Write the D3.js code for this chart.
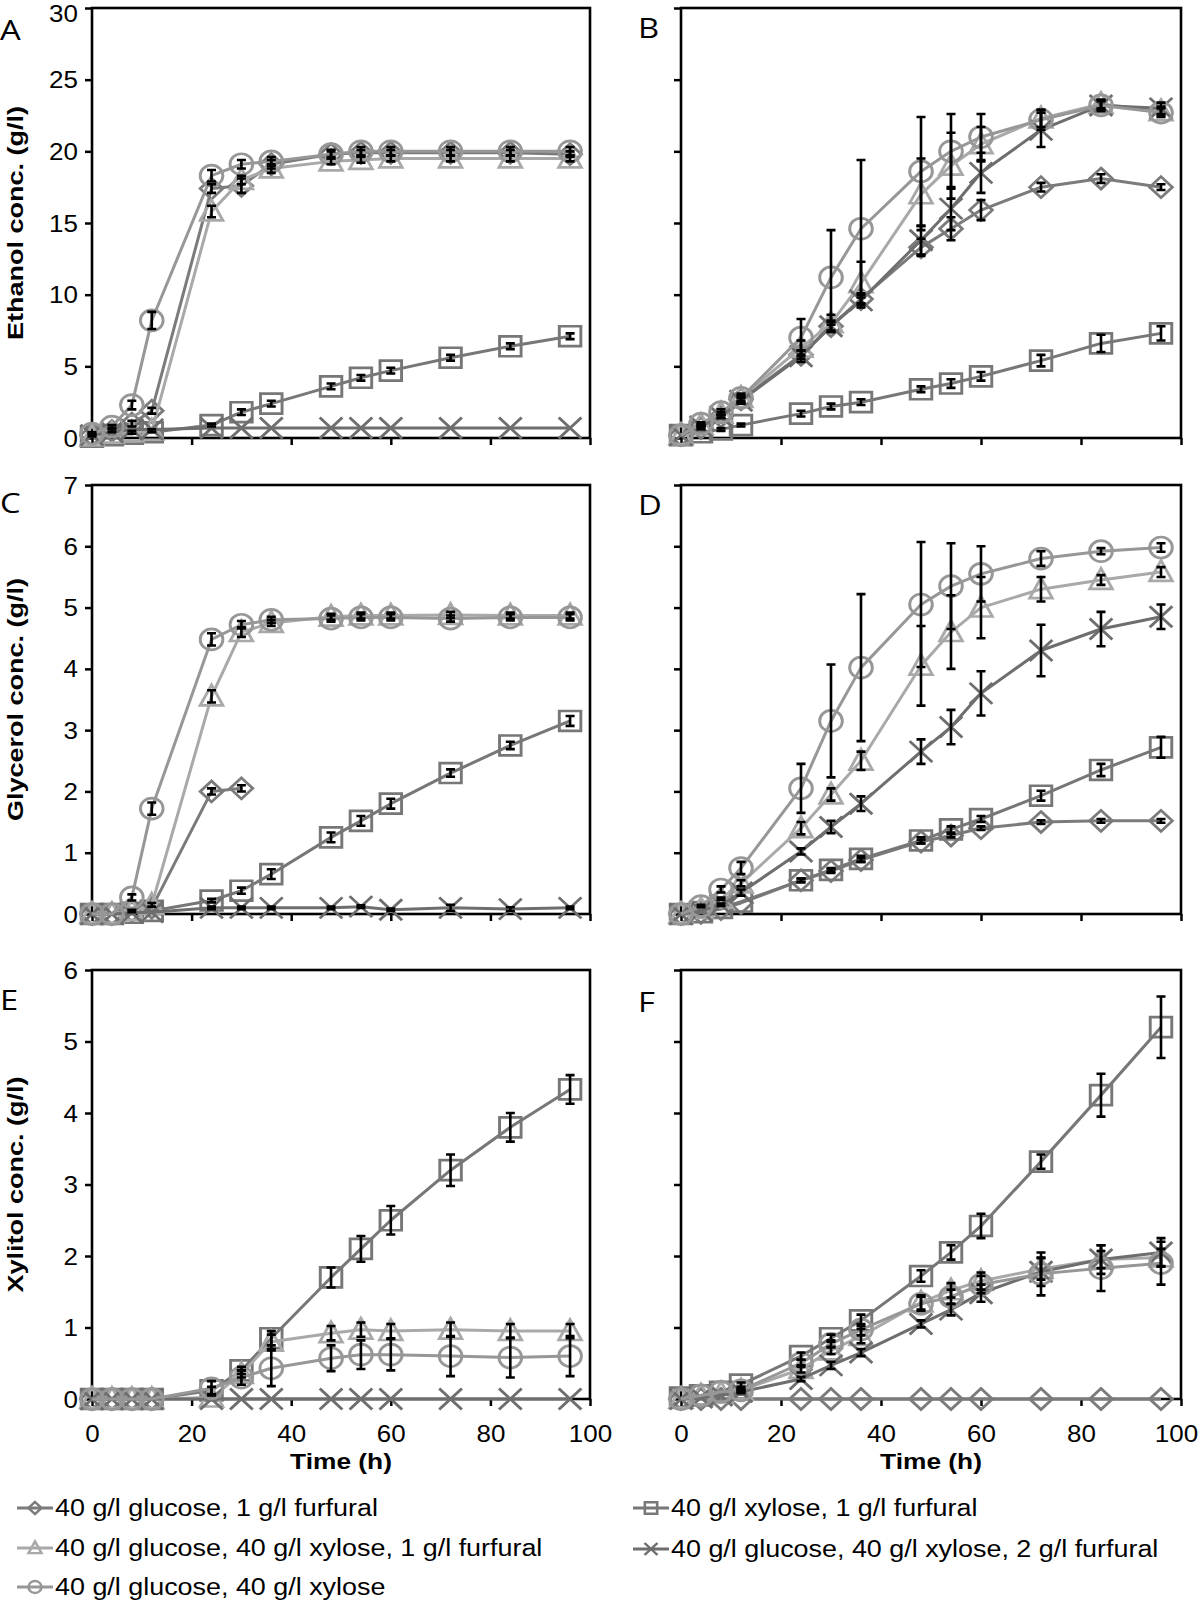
<!DOCTYPE html>
<html><head><meta charset="utf-8">
<script src="https://cdn.jsdelivr.net/npm/d3@7"></script>
<style>body{margin:0;background:#fff}</style>
</head><body><svg id="c" width="1200" height="1604"></svg>
<script>
// ---------------- DATA ----------------
const time = [0, 4, 8, 12, 24, 30, 36, 48, 54, 60, 72, 84, 96];
const xTicks = [0, 20, 40, 60, 80, 100];
const seriesKeys = ["d", "s", "t", "x", "c"];
const seriesLabels = [
  "40 g/l glucose, 1 g/l furfural",
  "40 g/l xylose, 1 g/l furfural",
  "40 g/l glucose, 40 g/l xylose, 1 g/l furfural",
  "40 g/l glucose, 40 g/l xylose, 2 g/l furfural",
  "40 g/l glucose, 40 g/l xylose"
];
const panelLetters = ["A", "B", "C", "D", "E", "F"];
const yTitles = ["Ethanol conc. (g/l)", "Glycerol conc. (g/l)", "Xylitol conc. (g/l)"];
const yMax = [30, 7, 6];
const yStep = [5, 1, 1];
const xTitle = "Time (h)";

// Panel A – ethanol
const A_d = [0.2, 0.5, 1.0, 1.9, 17.4, 17.6, 19.1, 19.8, 19.9, 19.9, 19.9, 19.9, 19.8];
const A_s = [0.1, 0.2, 0.3, 0.4, 0.9, 1.8, 2.4, 3.6, 4.2, 4.7, 5.6, 6.4, 7.1];
const A_t = [0.1, 0.3, 0.4, 0.5, 15.8, 18.0, 18.8, 19.3, 19.4, 19.5, 19.5, 19.5, 19.5];
const A_x = [0.2, 0.4, 0.6, 0.6, 0.7, 0.7, 0.7, 0.7, 0.7, 0.7, 0.7, 0.7, 0.7];
const A_c = [0.3, 0.8, 2.3, 8.2, 18.3, 19.1, 19.3, 19.8, 20.0, 20.0, 20.0, 20.0, 20.0];
const A_d_e = [0.1, 0.1, 0.2, 0.2, 0.3, 0.5, 0.3, 0.2, 0.2, 0.2, 0.2, 0.2, 0.2];
const A_s_e = [0, 0, 0, 0, 0.1, 0.2, 0.2, 0.2, 0.2, 0.2, 0.2, 0.2, 0.2];
const A_t_e = [0, 0, 0.1, 0.1, 0.4, 0.3, 0.3, 0.2, 0.2, 0.2, 0.2, 0.2, 0.2];
const A_x_e = [0, 0, 0, 0, 0, 0, 0, 0, 0, 0, 0, 0, 0];
const A_c_e = [0.1, 0.1, 0.3, 0.6, 0.4, 0.3, 0.3, 0.3, 0.3, 0.3, 0.3, 0.3, 0.3];

// Panel B – ethanol
const B_d = [0.2, 0.7, 1.5, 2.7, 5.8, 7.8, 9.7, 13.3, 14.6, 15.9, 17.5, 18.1, 17.5];
const B_s = [0.2, 0.4, 0.6, 0.9, 1.7, 2.2, 2.5, 3.4, 3.8, 4.3, 5.4, 6.6, 7.3];
const B_t = [0.2, 0.9, 1.7, 2.8, 6.3, 8.0, 10.8, 17.0, 19.0, 20.5, 22.3, 23.3, 22.8];
const B_x = [0.2, 0.8, 1.5, 2.6, 5.7, 7.8, 9.6, 13.8, 16.0, 18.5, 21.5, 23.2, 23.0];
const B_c = [0.2, 1.0, 1.8, 2.8, 7.0, 11.2, 14.6, 18.6, 20.0, 21.0, 22.2, 23.2, 22.7];
const B_d_e = [0, 0.1, 0.1, 0.2, 0.3, 0.3, 0.3, 0.6, 0.8, 0.7, 0.3, 0.3, 0.2];
const B_s_e = [0, 0, 0.1, 0.1, 0.2, 0.2, 0.2, 0.2, 0.3, 0.3, 0.4, 0.6, 0.5];
const B_t_e = [0, 0.1, 0.1, 0.2, 0.5, 0.6, 1.5, 2.5, 2.3, 1.2, 0.6, 0.3, 0.3];
const B_x_e = [0, 0.1, 0.1, 0.2, 0.4, 0.4, 0.5, 1.0, 1.5, 1.4, 1.2, 0.4, 0.4];
const B_c_e = [0, 0.1, 0.2, 0.3, 1.3, 3.3, 4.8, 3.8, 2.6, 1.6, 0.7, 0.3, 0.3];

// Panel C – glycerol
const C_d = [0, 0, 0.05, 0.1, 2.0, 2.05, null, null, null, null, null, null, null];
const C_s = [0, 0, 0.02, 0.05, 0.22, 0.38, 0.65, 1.25, 1.52, 1.8, 2.3, 2.75, 3.15];
const C_t = [0, 0, 0.05, 0.15, 3.55, 4.6, 4.75, 4.85, 4.87, 4.87, 4.88, 4.87, 4.87];
const C_x = [0, 0, 0.02, 0.03, 0.1, 0.1, 0.1, 0.1, 0.12, 0.07, 0.1, 0.08, 0.1];
const C_c = [0, 0, 0.27, 1.72, 4.48, 4.72, 4.8, 4.82, 4.84, 4.84, 4.82, 4.84, 4.84];
const C_d_e = [0, 0, 0, 0, 0.05, 0.05, 0, 0, 0, 0, 0, 0, 0];
const C_s_e = [0, 0, 0, 0, 0.03, 0.05, 0.08, 0.08, 0.08, 0.08, 0.06, 0.06, 0.08];
const C_t_e = [0, 0, 0.02, 0.03, 0.1, 0.08, 0.05, 0.05, 0.05, 0.05, 0.05, 0.05, 0.05];
const C_x_e = [0, 0, 0, 0, 0.02, 0.02, 0.02, 0.02, 0.02, 0.02, 0.05, 0.03, 0.02];
const C_c_e = [0, 0, 0.05, 0.1, 0.1, 0.06, 0.05, 0.05, 0.05, 0.05, 0.05, 0.05, 0.05];

// Panel D – glycerol
const D_d = [0, 0.02, 0.08, 0.18, 0.55, 0.7, 0.88, 1.18, 1.28, 1.4, 1.5, 1.52, 1.52];
const D_s = [0, 0.03, 0.1, 0.2, 0.55, 0.72, 0.9, 1.2, 1.38, 1.55, 1.93, 2.35, 2.72];
const D_t = [0, 0.08, 0.25, 0.5, 1.4, 1.95, 2.5, 4.05, 4.6, 5.0, 5.3, 5.45, 5.58];
const D_x = [0, 0.05, 0.15, 0.35, 1.02, 1.42, 1.8, 2.65, 3.05, 3.6, 4.3, 4.65, 4.85];
const D_c = [0, 0.13, 0.4, 0.75, 2.05, 3.15, 4.02, 5.05, 5.35, 5.55, 5.8, 5.92, 5.98];
const D_d_e = [0, 0, 0, 0, 0.03, 0.03, 0.03, 0.03, 0.03, 0.03, 0.03, 0.03, 0.03];
const D_s_e = [0, 0, 0, 0, 0.03, 0.03, 0.05, 0.05, 0.05, 0.05, 0.08, 0.1, 0.17];
const D_t_e = [0, 0, 0.02, 0.05, 0.1, 0.1, 0.15, 0.65, 0.6, 0.5, 0.2, 0.08, 0.08];
const D_x_e = [0, 0, 0.02, 0.05, 0.05, 0.1, 0.12, 0.2, 0.28, 0.36, 0.42, 0.28, 0.2];
const D_c_e = [0, 0.02, 0.05, 0.1, 0.4, 0.92, 1.2, 1.02, 0.7, 0.45, 0.12, 0.05, 0.07];

// Panel E – xylitol
const E_d = [0, 0, 0, 0, null, null, null, null, null, null, null, null, null];
const E_s = [0, 0, 0, 0, 0.12, 0.4, 0.85, 1.7, 2.1, 2.5, 3.2, 3.8, 4.33];
const E_t = [0, 0, 0, 0, 0.02, 0.35, 0.8, 0.92, 0.97, 0.95, 0.97, 0.95, 0.95];
const E_x = [0, 0, 0, 0, 0, 0, 0, 0, 0, 0, 0, 0, 0];
const E_c = [0, 0, 0, 0, 0.15, 0.3, 0.43, 0.57, 0.62, 0.62, 0.6, 0.58, 0.6];
const E_d_e = [0, 0, 0, 0, 0, 0, 0, 0, 0, 0, 0, 0, 0];
const E_s_e = [0, 0, 0, 0, 0.05, 0.05, 0.1, 0.14, 0.18, 0.2, 0.22, 0.2, 0.2];
const E_t_e = [0, 0, 0, 0, 0, 0.05, 0.1, 0.1, 0.1, 0.1, 0.1, 0.1, 0.1];
const E_x_e = [0, 0, 0, 0, 0, 0, 0, 0, 0, 0, 0, 0, 0];
const E_c_e = [0, 0, 0, 0, 0.1, 0.1, 0.25, 0.18, 0.2, 0.22, 0.28, 0.28, 0.28];

// Panel F – xylitol
const F_d = [0, 0, 0, 0, 0, 0, 0, 0, 0, 0, 0, 0, 0];
const F_s = [0.02, 0.05, 0.1, 0.2, 0.6, 0.85, 1.1, 1.72, 2.05, 2.42, 3.32, 4.25, 5.2];
const F_t = [0, 0.05, 0.08, 0.12, 0.42, 0.68, 0.88, 1.35, 1.52, 1.65, 1.82, 1.95, 1.98];
const F_x = [0, 0.02, 0.05, 0.1, 0.28, 0.47, 0.65, 1.05, 1.25, 1.48, 1.78, 1.95, 2.05];
const F_c = [0, 0.05, 0.1, 0.12, 0.5, 0.77, 0.97, 1.33, 1.43, 1.6, 1.75, 1.83, 1.9];
const F_d_e = [0, 0, 0, 0, 0, 0, 0, 0, 0, 0, 0, 0, 0];
const F_s_e = [0, 0, 0, 0.03, 0.05, 0.05, 0.08, 0.08, 0.1, 0.17, 0.1, 0.3, 0.43];
const F_t_e = [0, 0, 0, 0.02, 0.05, 0.05, 0.1, 0.1, 0.1, 0.12, 0.15, 0.12, 0.12];
const F_x_e = [0, 0, 0, 0.02, 0.03, 0.05, 0.05, 0.05, 0.08, 0.12, 0.2, 0.2, 0.2];
const F_c_e = [0, 0, 0, 0.02, 0.05, 0.05, 0.08, 0.1, 0.1, 0.12, 0.3, 0.32, 0.3];

// ---------------- STYLE / LAYOUT ----------------
const SX = 1.13;       // horizontal stretch of text as in reference
const MSX = 1.08;      // horizontal stretch of markers
const FONT = "'Liberation Sans', Arial, sans-serif";
const style = {
  d: { color: "#7b7b7b", marker: "diamond" },
  s: { color: "#777777", marker: "square" },
  t: { color: "#a9a9a9", marker: "triangle" },
  x: { color: "#6e6e6e", marker: "cross" },
  c: { color: "#979797", marker: "circle" }
};
const colX = [[92, 590], [681, 1181]];
const rowY = [[8, 438], [485, 914], [970, 1399]];
const letterPos = [[0, 40], [638, 38], [0, 513], [638, 515], [0, 1010], [638, 1012]];

const panelData = [
  { d: [A_d, A_d_e], s: [A_s, A_s_e], t: [A_t, A_t_e], x: [A_x, A_x_e], c: [A_c, A_c_e] },
  { d: [B_d, B_d_e], s: [B_s, B_s_e], t: [B_t, B_t_e], x: [B_x, B_x_e], c: [B_c, B_c_e] },
  { d: [C_d, C_d_e], s: [C_s, C_s_e], t: [C_t, C_t_e], x: [C_x, C_x_e], c: [C_c, C_c_e] },
  { d: [D_d, D_d_e], s: [D_s, D_s_e], t: [D_t, D_t_e], x: [D_x, D_x_e], c: [D_c, D_c_e] },
  { d: [E_d, E_d_e], s: [E_s, E_s_e], t: [E_t, E_t_e], x: [E_x, E_x_e], c: [E_c, E_c_e] },
  { d: [F_d, F_d_e], s: [F_s, F_s_e], t: [F_t, F_t_e], x: [F_x, F_x_e], c: [F_c, F_c_e] }
];

const svg = d3.select("#c");

function drawMarker(g, type, cx, cy, s, color, sw) {
  const m = g.append("g").attr("transform", `translate(${cx},${cy}) scale(${MSX},1)`);
  const common = sel => sel.attr("fill", "none").attr("stroke", color).attr("stroke-width", sw);
  if (type === "circle") {
    common(m.append("circle").attr("r", s));
  } else {
    let d;
    if (type === "diamond") d = `M0,${-s}L${s},0L0,${s}L${-s},0Z`;
    else if (type === "square") d = `M${-s * 0.95},${-s * 0.95}H${s * 0.95}V${s * 0.95}H${-s * 0.95}Z`;
    else if (type === "triangle") d = `M0,${-s * 1.1}L${s},${s * 0.85}L${-s},${s * 0.85}Z`;
    else d = `M${-s},${-s}L${s},${s}M${-s},${s}L${s},${-s}`;
    common(m.append("path").attr("d", d)).attr("stroke-linejoin", "miter");
  }
}

function sText(g, x, y, str, size, anchor, weight, family, sx) {
  return g.append("text")
    .attr("transform", `translate(${x},${y}) scale(${sx || SX},1)`)
    .attr("text-anchor", anchor).attr("dy", "0.35em")
    .attr("font-family", family || FONT).attr("font-size", size)
    .attr("font-weight", weight || "normal").attr("fill", "#000").text(str);
}

panelData.forEach((pd, i) => {
  const row = Math.floor(i / 2), col = i % 2;
  const [x0, x1] = colX[col], [y0, y1] = rowY[row];
  const x = d3.scaleLinear().domain([0, 100]).range([x0, x1]);
  const y = d3.scaleLinear().domain([0, yMax[row]]).range([y1, y0]);
  const g = svg.append("g");

  // axes
  const yA = d3.axisLeft(y).tickValues(d3.range(0, yMax[row] + 0.001, yStep[row]))
    .tickSize(7).tickSizeOuter(0).tickPadding(7)
    .tickFormat(col === 0 ? d3.format("d") : () => "");
  const ya = g.append("g").attr("transform", `translate(${x0},0)`).call(yA);
  const xA = d3.axisBottom(x).tickValues(xTicks).tickSize(7).tickSizeOuter(0).tickPadding(23)
    .tickFormat(row === 2 ? d3.format("d") : () => "");
  const xa = g.append("g").attr("transform", `translate(0,${y1})`).call(xA);
  [ya, xa].forEach(a => {
    a.select(".domain").remove();
    a.selectAll(".tick line").attr("stroke", "#000").attr("stroke-width", 2.5);
    a.selectAll(".tick text").attr("font-family", FONT).attr("font-size", 23).attr("fill", "#000");
  });
  ya.selectAll(".tick text").attr("x", null).attr("dy", "0.35em")
    .attr("transform", d => `translate(-14,${y(d) < 13 ? 13 - y(d) : 0}) scale(${SX},1)`);
  xa.selectAll(".tick text").attr("y", null).attr("dy", null)
    .attr("transform", d => {
      const px = x(d), shift = px > 1170 ? 1176 - px : 0;
      return `translate(${shift},37) scale(${SX},1)`;
    }).attr("dominant-baseline", "middle");

  g.append("rect").attr("x", x0).attr("y", y0).attr("width", x1 - x0).attr("height", y1 - y0)
    .attr("fill", "none").attr("stroke", "#000").attr("stroke-width", 2.6);

  // series
  seriesKeys.forEach(k => {
    const [vals] = pd[k];
    const pts = time.map((t, j) => ({ t, v: vals[j] }));
    const line = d3.line().defined(p => p.v != null).x(p => x(p.t)).y(p => y(p.v));
    g.append("path").attr("d", line(pts)).attr("fill", "none")
      .attr("stroke", style[k].color).attr("stroke-width", 3).attr("stroke-linejoin", "round");
    pts.filter(p => p.v != null).forEach(p =>
      drawMarker(g, style[k].marker, x(p.t), y(p.v), 10.5, style[k].color, 2.7));
  });
  // error bars
  seriesKeys.forEach(k => {
    const [vals, errs] = pd[k];
    time.forEach((t, j) => {
      const v = vals[j], e = errs[j];
      if (v == null || !e) return;
      const cx = x(t), ya1 = y(v + e), ya0 = y(v - e), cw = 4.5;
      const p = `M${cx},${ya1}V${ya0}M${cx - cw},${ya1}H${cx + cw}M${cx - cw},${ya0}H${cx + cw}`;
      g.append("path").attr("d", p).attr("stroke", "#000").attr("stroke-width", 2.6).attr("fill", "none");
    });
  });

  // panel letter
  svg.append("text").attr("x", letterPos[i][0]).attr("y", letterPos[i][1])
    .attr("transform", `translate(${letterPos[i][0] * (1 - 1.17)},0) scale(1.17,1)`)
    .attr("font-family", "'Open Sans', 'Noto Sans', sans-serif").attr("font-size", 28)
    .attr("fill", "#000").text(panelLetters[i]);

  // y title
  if (col === 0) {
    svg.append("text")
      .attr("transform", `translate(15,${(y0 + y1) / 2}) rotate(-90) scale(1.2,1)`)
      .attr("text-anchor", "middle").attr("dy", "0.35em")
      .attr("font-family", FONT).attr("font-size", 22.5).attr("font-weight", "bold")
      .text(yTitles[row]);
  }
  if (row === 2) sText(svg, (x0 + x1) / 2, 1461, xTitle, 22.5, "middle", "bold", FONT, 1.17);
});

// legend
const legendPos = { d: [17, 1508], t: [17, 1548], c: [17, 1587], s: [633, 1508], x: [633, 1549] };
seriesKeys.forEach((k, i) => {
  const [lx, ly] = legendPos[k];
  const g = svg.append("g");
  g.append("line").attr("x1", lx).attr("x2", lx + 36).attr("y1", ly).attr("y2", ly)
    .attr("stroke", style[k].color).attr("stroke-width", 3);
  drawMarker(g, style[k].marker, lx + 18, ly, 6, style[k].color, 2.4);
  sText(g, lx + 38, ly, seriesLabels[i], 23, "start", "normal", FONT, 1.17);
});
</script></body></html>
